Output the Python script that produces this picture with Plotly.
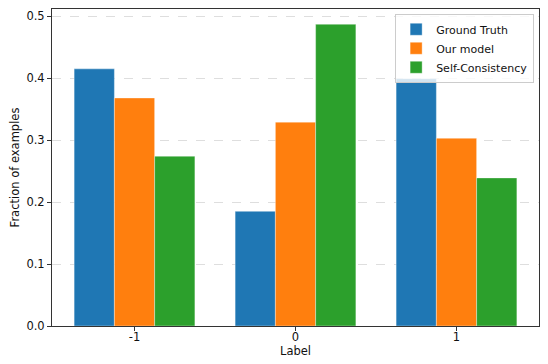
from plotly import graph_objects as go

labels = [-1, 0, 1]
ground_truth = [0.415, 0.185, 0.399]
our_model = [0.368, 0.329, 0.303]
self_consistency = [0.274, 0.487, 0.239]

series = [
    ("Ground Truth", ground_truth, "#1f77b4"),
    ("Our model", our_model, "#ff7f0e"),
    ("Self-Consistency", self_consistency, "#2ca02c"),
]

font = dict(family="DejaVu Sans", size=11.5, color="#111")

fig = go.Figure()
for name, vals, color in series:
    fig.add_trace(
        go.Bar(
            x=labels,
            y=vals,
            name=name,
            marker=dict(color=color, line=dict(color="rgba(255,255,255,0.6)", width=0.6)),
        )
    )

axis_common = dict(
    showline=True,
    linecolor="#333",
    linewidth=1,
    mirror=True,
    ticks="outside",
    ticklen=4,
    tickcolor="#333",
    tickfont=font,
    zeroline=False,
    automargin=False,
)

# page body has an 8px margin, so the figure is shrunk and shifted to match
fig.update_layout(
    width=540,
    height=356,
    margin=dict(l=44, r=9, t=1, b=38),
    paper_bgcolor="white",
    plot_bgcolor="white",
    font=font,
    barmode="group",
    bargap=0.25,
    bargroupgap=0,
    xaxis=dict(
        **axis_common,
        range=[-1.5125, 1.5125],
        tickvals=labels,
        ticktext=[str(v) for v in labels],
        ticklabelstandoff=-4,
        showgrid=False,
        title=dict(text="Label", font=font, standoff=2),
    ),
    yaxis=dict(
        **axis_common,
        range=[0, 0.5116],
        tickvals=[0, 0.1, 0.2, 0.3, 0.4, 0.5],
        tickformat=".1f",
        showgrid=True,
        gridcolor="rgba(0,0,0,0.13)",
        griddash="dash",
        gridwidth=0.8,
        title=dict(text="Fraction of examples", font=font, standoff=4),
    ),
    legend=dict(
        x=0.99,
        y=0.985,
        xanchor="right",
        yanchor="top",
        bgcolor="rgba(255,255,255,0.8)",
        bordercolor="#cccccc",
        borderwidth=1,
        font=dict(family="DejaVu Sans", size=11, color="#111"),
        tracegroupgap=0,
        itemwidth=30,
    ),
)

fig.write_html("out.html")
